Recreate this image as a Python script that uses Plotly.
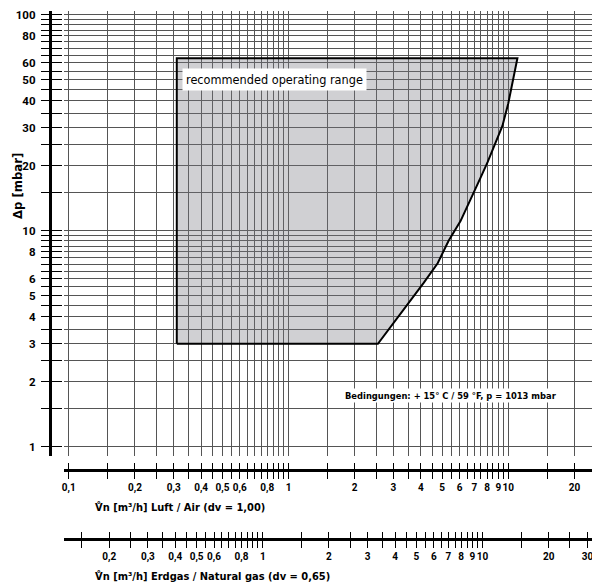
import numpy as np
import plotly.graph_objects as go

# grid lines (air flow scale, m3/h) and pressure grid (mbar)
grid_x = [round(v, 2) for v in np.arange(0.1, 0.99, 0.05)] + \
         [round(v, 1) for v in np.arange(1.0, 9.9, 0.5)] + [10, 15, 20]
grid_y = [round(v, 1) for v in np.arange(1.0, 9.9, 0.5)] + list(range(10, 101, 5))
gas_x = [round(v, 2) for v in np.arange(0.15, 0.99, 0.05)] + \
        [round(v, 1) for v in np.arange(1.0, 9.9, 0.5)] + [10, 15, 20, 25, 30]

air_labels = {0.1: "0,1", 0.2: "0,2", 0.3: "0,3", 0.4: "0,4", 0.5: "0,5", 0.6: "0,6",
              0.8: "0,8", 1: "1", 2: "2", 3: "3", 4: "4", 5: "5", 6: "6", 7: "7",
              8: "8", 9: "9", 10: "10", 20: "20"}
gas_labels = {0.2: "0,2", 0.3: "0,3", 0.4: "0,4", 0.5: "0,5", 0.6: "0,6", 0.8: "0,8",
              1: "1", 2: "2", 3: "3", 4: "4", 5: "5", 6: "6", 7: "7", 8: "8", 9: "9",
              10: "10", 20: "20", 30: "30"}
p_labels = {1: "1", 2: "2", 3: "3", 4: "4", 5: "5", 6: "6", 8: "8", 10: "10", 20: "20",
            30: "30", 40: "40", 50: "50", 60: "60", 80: "80", 100: "100"}

# recommended operating range outline (air flow, dp)
range_x = [0.31, 0.31, 11.0, 10.5, 10.0, 9.4, 8.55, 8.05, 7.47, 6.73, 6.06, 5.35, 4.77, 4.12, 3.35, 2.55, 0.31]
range_y = [3.0, 63, 63, 50, 39, 30.6, 24.1, 20.8, 17.6, 14.0, 11.1, 9.0, 7.08, 5.74, 4.33, 3.0, 3.0]

gas_factor = 1.31  # gas scale shift vs air scale

FONT = "DejaVu Sans Condensed, Liberation Sans, sans-serif"
TICKFONT = "Roboto, Liberation Sans, sans-serif"

# page offset (body margin) -> figure coords
W, H, OFF = 592, 578, 8
def fx(p):
    return (p - OFF) / W
def fy(p):
    return 1 - (p - OFF) / H

xr = [(62 - 287.5) / 220.5, (600 - 287.5) / 220.5]
yr = [(446 - 455) / 217, (446 - 8) / 217]
gr = [xr[0] + np.log10(gas_factor), xr[1] + np.log10(gas_factor)]

fig = go.Figure()
fig.add_trace(go.Scatter(x=range_x, y=range_y, mode="lines", fill="toself",
                         fillcolor="rgba(120,120,130,0.35)",
                         line=dict(color="black", width=2), hoverinfo="skip"))
# empty traces so the extra scales get drawn
for xa in ["x2", "x3", "x4", "x5"]:
    fig.add_trace(go.Scatter(x=[], y=[], xaxis=xa, yaxis="y", hoverinfo="skip", showlegend=False))

def lab(vals, d):
    return [d.get(v, "") for v in vals]

gridcol = "#555"
scale_style = dict(type="log", anchor="free", showgrid=False, zeroline=False,
                   tickwidth=1, tickcolor="black", tickangle=0, ticklabeloverflow="allow")
fig.update_layout(
    width=W, height=H, margin=dict(l=0, r=0, t=0, b=0),
    paper_bgcolor="white", plot_bgcolor="white", showlegend=False,
    font=dict(family=FONT, color="black"),
    xaxis=dict(type="log", range=xr, domain=[fx(62), 1], tickvals=grid_x,
               showticklabels=False, ticks="", showgrid=True, gridcolor=gridcol,
               gridwidth=1, showline=False, zeroline=False),
    yaxis=dict(type="log", range=yr, domain=[fy(455), 1], anchor="free", position=fx(48),
               side="left", tickvals=grid_y, ticktext=lab(grid_y, p_labels),
               ticks="outside", ticklen=8, tickwidth=1, tickcolor="black",
               ticklabelstandoff=3, ticklabeloverflow="allow",
               minor=dict(tickvals=[v * 1.00001 for v in grid_y], ticks="inside",
                          ticklen=10, tickwidth=1, tickcolor="black", showgrid=False),
               showline=True, linewidth=3, linecolor="black",
               showgrid=True, gridcolor=gridcol, gridwidth=1, zeroline=False,
               tickfont=dict(family=TICKFONT, size=11.5, weight="bold")),
    xaxis2=dict(scale_style, range=xr, overlaying="x", position=fy(469), side="bottom",
                showline=True, linewidth=3, linecolor="black", ticks="outside", ticklen=7,
                tickvals=grid_x, ticktext=lab(grid_x, air_labels),
                tickfont=dict(family=TICKFONT, size=10, weight="bold")),
    xaxis4=dict(scale_style, range=xr, overlaying="x", position=fy(469), side="bottom",
                showline=False, ticks="inside", ticklen=7, tickvals=grid_x,
                showticklabels=False),
    xaxis3=dict(scale_style, range=gr, overlaying="x", position=fy(539), side="bottom",
                showline=True, linewidth=3, linecolor="black", ticks="outside", ticklen=7,
                tickvals=gas_x, ticktext=lab(gas_x, gas_labels),
                tickfont=dict(family=TICKFONT, size=10, weight="bold")),
    xaxis5=dict(scale_style, range=gr, overlaying="x", position=fy(539), side="bottom",
                showline=False, ticks="inside", ticklen=7, tickvals=gas_x,
                showticklabels=False),
)

fig.add_annotation(text="recommended operating range", x=np.log10(0.86), y=np.log10(50),
                   xref="x", yref="y", showarrow=False, bgcolor="white", borderpad=3,
                   font=dict(family=FONT, size=12.6, color="black"))
fig.add_annotation(text="Bedingungen: + 15° C / 59 °F, p = 1013 mbar",
                   x=np.log10(5.47), y=np.log10(1.72), xref="x", yref="y",
                   showarrow=False, bgcolor="white", borderpad=1,
                   font=dict(family=FONT, size=9.3, color="black", weight="bold"))
fig.add_annotation(text="Δp [mbar]", x=fx(15), y=fy(184), xref="paper", yref="paper",
                   xanchor="center", yanchor="middle", textangle=-90, showarrow=False,
                   font=dict(family=FONT, size=13, color="black", weight="bold"))
fig.add_annotation(text="V\u030an [m³/h] Luft / Air (dv = 1,00)", x=fx(91), y=fy(507),
                   xref="paper", yref="paper", xanchor="left", yanchor="middle", showarrow=False,
                   font=dict(family=FONT, size=11, color="black", weight="bold"))
fig.add_annotation(text="V\u030an [m³/h] Erdgas / Natural gas (dv = 0,65)", x=fx(91), y=fy(576),
                   xref="paper", yref="paper", xanchor="left", yanchor="middle", showarrow=False,
                   font=dict(family=FONT, size=11, color="black", weight="bold"))

fig.write_html("out.html")
